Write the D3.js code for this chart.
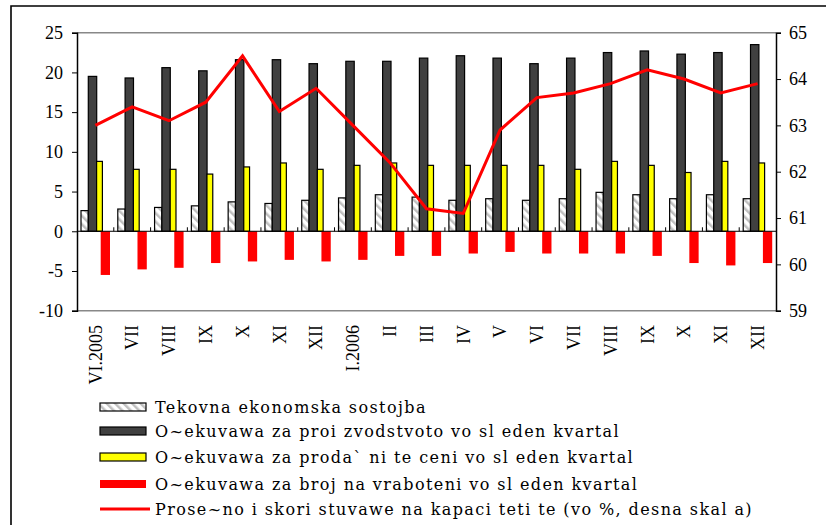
<!DOCTYPE html>
<html>
<head>
<meta charset="utf-8">
<script src="https://cdn.jsdelivr.net/npm/d3@7"></script>
<style>
  body { margin: 0; background: #fff; }
  svg { display: block; }
  svg text { font-family: "Liberation Serif", "Times New Roman", serif; fill: #000; }
  .legend text { font-family: "DejaVu Serif", serif; font-size: 16px; letter-spacing: 1.4px; }
</style>
</head>
<body>
<div id="chart"></div>
<script>
const categories = ["VI.2005", "VII", "VIII", "IX", "X", "XI", "XII", "I.2006", "II", "III", "IV", "V", "VI", "VII", "VIII", "IX", "X", "XI", "XII"];

const currentState = [2.6, 2.8, 3.0, 3.2, 3.7, 3.5, 3.9, 4.2, 4.6, 4.3, 3.9, 4.1, 3.9, 4.1, 4.9, 4.6, 4.1, 4.6, 4.1];
const production = [19.5, 19.3, 20.6, 20.2, 21.6, 21.6, 21.1, 21.4, 21.4, 21.8, 22.1, 21.8, 21.1, 21.8, 22.5, 22.7, 22.3, 22.5, 23.5];
const prices = [8.8, 7.8, 7.8, 7.2, 8.1, 8.6, 7.8, 8.3, 8.6, 8.3, 8.3, 8.3, 8.3, 7.8, 8.8, 8.3, 7.4, 8.8, 8.6];
const employment = [-5.5, -4.8, -4.6, -4.0, -3.8, -3.6, -3.8, -3.6, -3.1, -3.1, -2.8, -2.6, -2.8, -2.8, -2.8, -3.1, -4.0, -4.3, -4.0];
const capacity = [63.0, 63.4, 63.1, 63.5, 64.5, 63.3, 63.8, 63.0, 62.2, 61.2, 61.1, 62.9, 63.6, 63.7, 63.9, 64.2, 64.0, 63.7, 63.9];

const leftTicks = [-10, -5, 0, 5, 10, 15, 20, 25];
const rightTicks = [59, 60, 61, 62, 63, 64, 65];

const legendLabels = [
  "Tekovna ekonomska sostojba",
  "O~ekuvawa za proi zvodstvoto vo sl eden kvartal",
  "O~ekuvawa za proda` ni te ceni  vo sl eden kvartal",
  "O~ekuvawa za broj na vraboteni  vo sl eden kvartal",
  "Prose~no i skori stuvawe na kapaci teti te (vo %, desna skal a)"
];

const width = 826;
const height = 525;
const plot = { left: 77, right: 776, top: 32.7, bottom: 310.7 };

const series = [
  { values: currentState, fill: "url(#hatch)", stroke: "#000", off: 4, w: 7.3 },
  { values: production, fill: "#404040", stroke: "#000", off: 11.3, w: 8.4 },
  { values: prices, fill: "#ffff00", stroke: "#000", off: 19.6, w: 5.8 },
  { values: employment, fill: "#ff0000", stroke: "none", off: 23.7, w: 9.3 }
];

const svg = d3.select("#chart")
  .append("svg")
  .attr("width", width)
  .attr("height", height);

const defs = svg.append("defs");
const hatch = defs.append("pattern")
  .attr("id", "hatch")
  .attr("patternUnits", "userSpaceOnUse")
  .attr("width", 6)
  .attr("height", 6)
  .attr("patternTransform", "rotate(-45)");
hatch.append("rect").attr("width", 6).attr("height", 6).attr("fill", "#fff");
hatch.append("rect").attr("x", 0).attr("width", 2.5).attr("height", 6).attr("fill", "#c0c0c0");

svg.append("path")
  .attr("d", `M11,525 V6 H826`)
  .attr("fill", "none")
  .attr("stroke", "#000")
  .attr("stroke-width", 1.6);

const x = d3.scaleBand()
  .domain(d3.range(categories.length))
  .range([plot.left, plot.right])
  .padding(0);

const y = d3.scaleLinear()
  .domain([-10, 25])
  .range([plot.bottom, plot.top]);

const y2 = d3.scaleLinear()
  .domain([59, 65])
  .range([plot.bottom, plot.top]);

svg.append("line")
  .attr("x1", plot.left).attr("x2", plot.right)
  .attr("y1", plot.top).attr("y2", plot.top)
  .attr("stroke", "#888").attr("stroke-width", 1.5);

svg.append("line")
  .attr("x1", plot.left).attr("x2", plot.right)
  .attr("y1", plot.bottom).attr("y2", plot.bottom)
  .attr("stroke", "#888").attr("stroke-width", 1.5);

series.forEach(s => {
  svg.append("g")
    .selectAll("rect")
    .data(s.values)
    .enter()
    .append("rect")
    .attr("x", (d, i) => x(i) + s.off)
    .attr("y", d => y(Math.max(0, d)))
    .attr("width", s.w)
    .attr("height", d => Math.abs(y(d) - y(0)))
    .attr("fill", s.fill)
    .attr("stroke", s.stroke)
    .attr("stroke-width", 1.2);
});

const zeroAxis = svg.append("g");
zeroAxis.append("line")
  .attr("x1", plot.left).attr("x2", plot.right)
  .attr("y1", y(0)).attr("y2", y(0))
  .attr("stroke", "#000").attr("stroke-width", 1);
zeroAxis.selectAll("line.tick")
  .data(d3.range(1, categories.length))
  .enter()
  .append("line")
  .attr("class", "tick")
  .attr("x1", i => x(i)).attr("x2", i => x(i))
  .attr("y1", y(0) - 4).attr("y2", y(0))
  .attr("stroke", "#000");

const line = d3.line()
  .x((d, i) => x(i) + x.bandwidth() / 2)
  .y(d => y2(d));

svg.append("path")
  .datum(capacity)
  .attr("fill", "none")
  .attr("stroke", "#ff0000")
  .attr("stroke-width", 3)
  .attr("d", line);

const plainNumber = d => String(d);

const leftAxis = svg.append("g")
  .attr("transform", `translate(${plot.left},0)`)
  .call(d3.axisLeft(y).tickValues(leftTicks).tickSize(5).tickPadding(9).tickFormat(plainNumber));
leftAxis.select(".domain").attr("stroke-width", 1.5);

const rightAxis = svg.append("g")
  .attr("transform", `translate(${plot.right},0)`)
  .call(d3.axisRight(y2).tickValues(rightTicks).tickSize(5).tickPadding(8).tickFormat(plainNumber));
rightAxis.select(".domain").attr("stroke-width", 1.5);

svg.selectAll(".tick text")
  .style("font-family", "'Liberation Serif', serif")
  .style("font-size", "18px");

svg.append("g")
  .selectAll("text")
  .data(categories)
  .enter()
  .append("text")
  .attr("transform", (d, i) => `translate(${x(i) + x.bandwidth() / 2},325) rotate(-90)`)
  .attr("text-anchor", "end")
  .attr("dy", "0.35em")
  .style("font-size", "18px")
  .text(d => d);

const legend = svg.append("g")
  .attr("class", "legend");

legend.append("rect")
  .attr("x", 95).attr("y", 391)
  .attr("width", 680).attr("height", 134)
  .attr("fill", "#fff");

const legendRows = [407, 431, 457, 484, 509];
const legendFills = ["url(#hatch)", "#404040", "#ffff00", "#ff0000"];

legendLabels.forEach((label, i) => {
  const row = legend.append("g")
    .attr("transform", `translate(100,${legendRows[i]})`);

  if (i < 4) {
    row.append("rect")
      .attr("x", 0).attr("y", -4)
      .attr("width", 46).attr("height", 8)
      .attr("fill", legendFills[i])
      .attr("stroke", i < 3 ? "#000" : "none")
      .attr("stroke-width", 1.2);
  } else {
    row.append("line")
      .attr("x1", 0).attr("x2", 50)
      .attr("stroke", "#ff0000")
      .attr("stroke-width", 3);
  }

  row.append("text")
    .attr("x", 55)
    .attr("dy", "0.36em")
    .text(label);
});
</script>
</body>
</html>
